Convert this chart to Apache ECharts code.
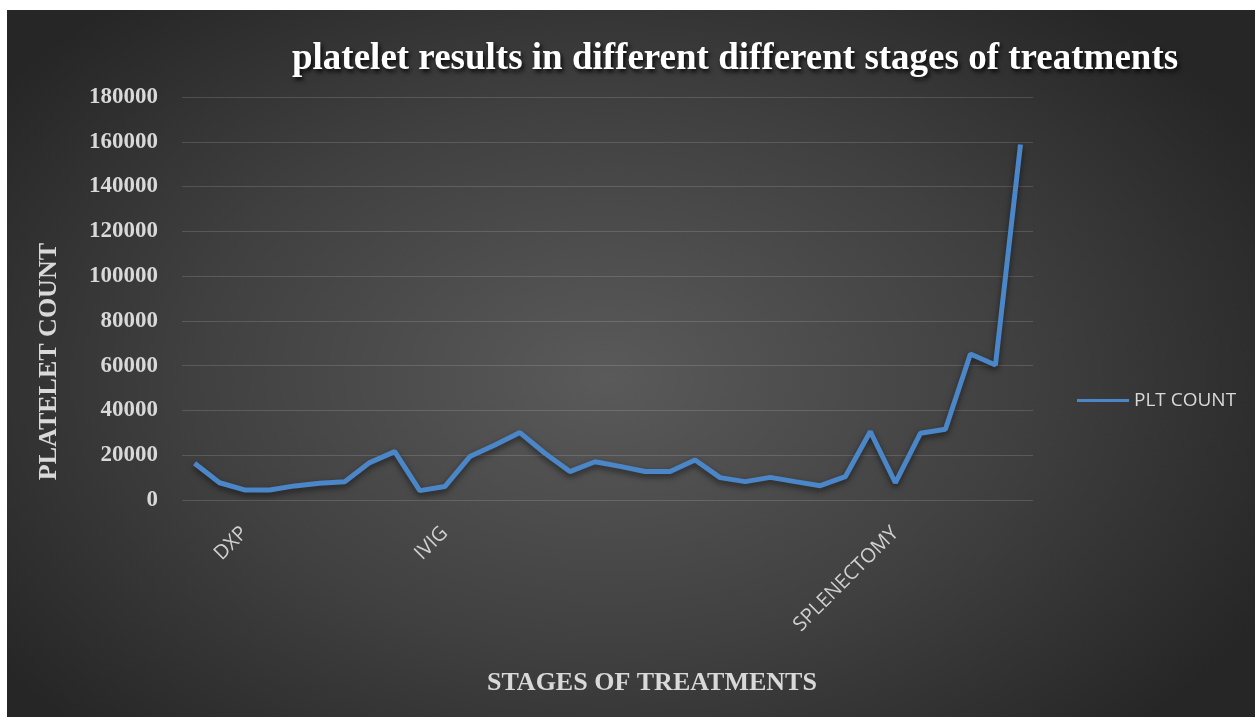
<!DOCTYPE html>
<html>
<head>
<meta charset="utf-8">
<title>platelet results</title>
<script src="https://cdn.jsdelivr.net/npm/echarts@6/dist/echarts.min.js"></script>
<style>
  html, body { margin: 0; padding: 0; background: #fff; }
  #chart {
    position: absolute;
    left: 7px;
    top: 10px;
    width: 1248px;
    height: 707px;
    background: radial-gradient(ellipse 60% 70% at 48% 52%, #5a5a5a 0%, #404040 55%, #262626 100%);
  }
</style>
</head>
<body>
<div id="chart"></div>
<script>
// stages of treatment (only three are labelled on the axis)
var stages = [
  "", "", "DXP", "", "", "", "", "", "", "",
  "IVIG", "", "", "", "", "", "", "", "", "",
  "", "", "", "", "", "", "", "", "SPLENECTOMY", "",
  "", "", "", ""
];
// PLT COUNT per measurement
var pltCount = [
  16400, 7700, 4500, 4500, 6300, 7500, 8200, 16700, 21600, 4200,
  6000, 19400, 24600, 30100, 20900, 12700, 17100, 15000, 12700, 12700,
  17900, 10000, 8200, 10100, 8200, 6400, 10400, 30600, 7700, 29800,
  31600, 65200, 60300, 158800
];
var yTicks = [0, 180000, 20000]; // min, max, step

var chart = echarts.init(document.getElementById("chart"));
var serif = "'Liberation Serif', 'DejaVu Serif', serif";
var sans = "'Open Sans', 'Noto Sans', sans-serif";

chart.setOption({
  backgroundColor: "transparent",
  animation: false,
  title: {
    text: "platelet results in different different stages of treatments",
    left: 280,
    top: 26,
    textStyle: {
      color: "#ffffff",
      fontFamily: serif,
      fontWeight: "bold",
      fontSize: 37,
      textShadowColor: "rgba(0,0,0,0.85)",
      textShadowBlur: 4,
      textShadowOffsetX: 2,
      textShadowOffsetY: 3
    }
  },
  legend: {
    data: ["PLT COUNT"],
    left: 1065,
    top: 376,
    icon: "rect",
    itemWidth: 52,
    itemHeight: 3,
    itemGap: 6,
    textStyle: {
      color: "#d9d9d9",
      fontFamily: sans,
      fontSize: 19
    }
  },
  grid: {
    left: 175,
    right: 222,
    top: 87,
    bottom: 217
  },
  xAxis: {
    type: "category",
    boundaryGap: true,
    data: stages,
    axisLine: { show: false },
    axisTick: { show: false },
    axisLabel: {
      interval: 0,
      rotate: 45,
      margin: 30,
      color: "#d0d0d0",
      fontFamily: sans,
      fontSize: 20
    }
  },
  yAxis: {
    type: "value",
    min: yTicks[0],
    max: yTicks[1],
    interval: yTicks[2],
    axisLine: { show: false },
    axisTick: { show: false },
    axisLabel: {
      margin: 24,
      color: "#d9d9d9",
      fontFamily: serif,
      fontWeight: "bold",
      fontSize: 23,
      formatter: function (v) { return String(v); }
    },
    splitLine: {
      lineStyle: { color: "rgba(255,255,255,0.14)", width: 1 }
    }
  },
  graphic: [
    {
      type: "text",
      left: 29,
      top: 233,
      rotation: Math.PI / 2,
      style: {
        text: "PLATELET COUNT",
        fill: "#d9d9d9",
        font: "bold 26px " + serif
      }
    },
    {
      type: "text",
      left: 480,
      top: 660,
      style: {
        text: "STAGES OF TREATMENTS",
        fill: "#d9d9d9",
        font: "bold 26px " + serif
      }
    }
  ],
  series: [
    {
      name: "PLT COUNT",
      type: "line",
      data: pltCount,
      symbol: "none",
      color: "#4a86c8",
      lineStyle: {
        width: 5,
        color: "#4a86c8",
        shadowColor: "rgba(0,0,0,0.55)",
        shadowBlur: 6,
        shadowOffsetY: 3
      }
    }
  ]
});
</script>
</body>
</html>
